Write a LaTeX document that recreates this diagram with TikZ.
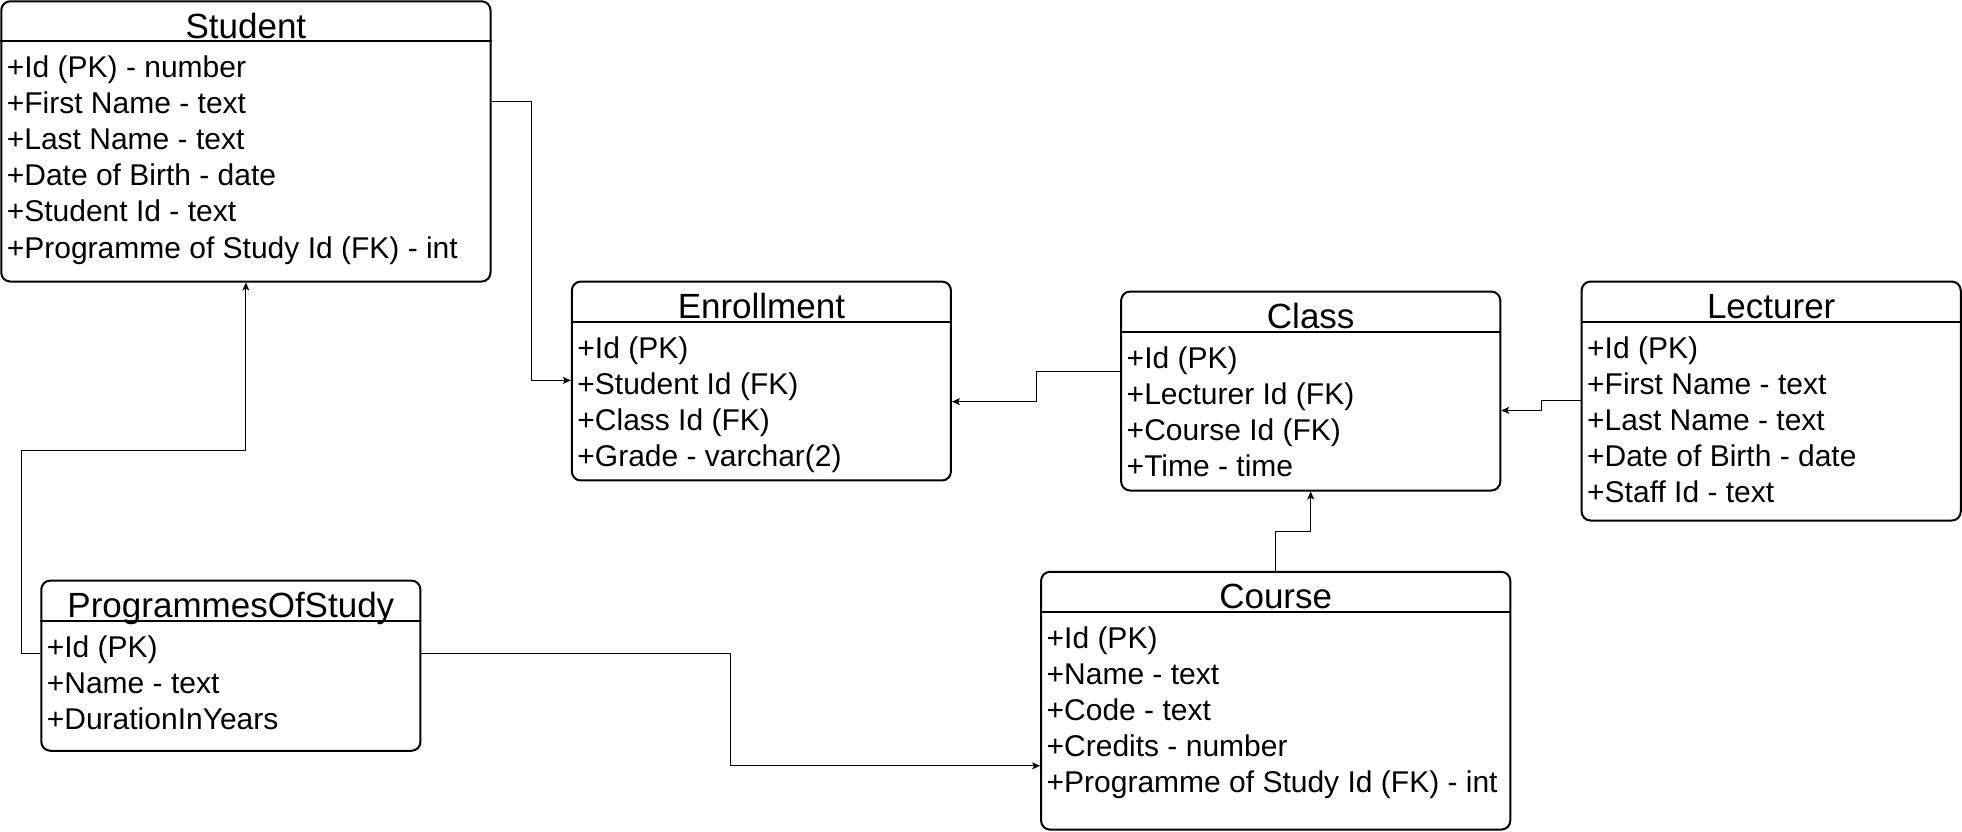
\documentclass[tikz,border=0pt]{standalone}
\usepackage{fontspec}
\setmainfont{Liberation Sans}
\usetikzlibrary{arrows.meta,fit}
\tikzset{
  tbl/.style={draw=black, line width=2pt, rounded corners=9pt, fill=white, inner sep=0pt},
  sepline/.style={draw=black, line width=2pt},
  ttl/.style={anchor=base, inner sep=0pt, font=\fontsize{35}{42}\selectfont},
  attr/.style={anchor=base west, inner sep=0pt, font=\fontsize{30}{36}\selectfont},
  conn/.style={draw=black, line width=1pt, -{Stealth[length=8pt,width=7pt,inset=2pt]}}
}
\newcommand{\ertable}[8]{%
  \node[tbl, fit={(#2,#3) (#4,#5)}] (#1) {};
  \draw[sepline] (#1.west |- 0,#6) -- (#1.east |- 0,#6);
  \node[ttl] (#1-t) at ({(#2+#4)/2},{#6-2.5}) {#7};
  \foreach \rowtext [count=\i from 0] in {#8} {
    \node[attr] (#1-r\i) at ({#2+4.3},{#6+29.2+\i*28.8}) {\rowtext};
  }
}
\begin{document}
\begin{tikzpicture}[x=1.25128pt, y=-1.25128pt]
\useasboundingbox (0,0) rectangle (1568,664.9);
\fill[white] (0,0) rectangle (1568,664.9);

\ertable{student}{1}{1}{392}{225}{33}{Student}{{+Id (PK) - number},{+First Name - text},{+Last Name - text},{+Date of Birth - date},{+Student Id - text},{+Programme of Study Id (FK) - int}}
\ertable{enroll}{457}{225}{760}{384}{257}{Enrollment}{{+Id (PK)},{+Student Id (FK)},{+Class Id (FK)},{+Grade - varchar(2)}}
\ertable{class}{896}{233}{1199}{392}{265}{Class}{{+Id (PK)},{+Lecturer Id (FK)},{+Course Id (FK)},{+Time - time}}
\ertable{lect}{1264}{225}{1567}{416}{257}{Lecturer}{{+Id (PK)},{+First Name - text},{+Last Name - text},{+Date of Birth - date},{+Staff Id - text}}
\ertable{pos}{33}{464}{336}{600}{496}{ProgrammesOfStudy}{{+Id (PK)},{+Name - text},{+DurationInYears}}
\ertable{course}{832}{457}{1207}{663}{489}{Course}{{+Id (PK)},{+Name - text},{+Code - text},{+Credits - number},{+Programme of Study Id (FK) - int}}

\draw[conn] (student.east |- 0,81) -- (425,81) |- (enroll.west |- 0,304);
\draw[conn] (class.west |- 0,297) -- (828,297) |- (enroll.east |- 0,321);
\draw[conn] (lect.west |- 0,320) -- (1232,320) |- (class.east |- 0,328);
\draw[conn] (course.north) -- (course.north |- 0,425) -| (class.south);
\draw[conn] (pos.west |- 0,522) -| (17,360) -| (student.south);
\draw[conn] (pos.east |- 0,522) -| (584,612) -- (course.west |- 0,612);
\end{tikzpicture}
\end{document}
